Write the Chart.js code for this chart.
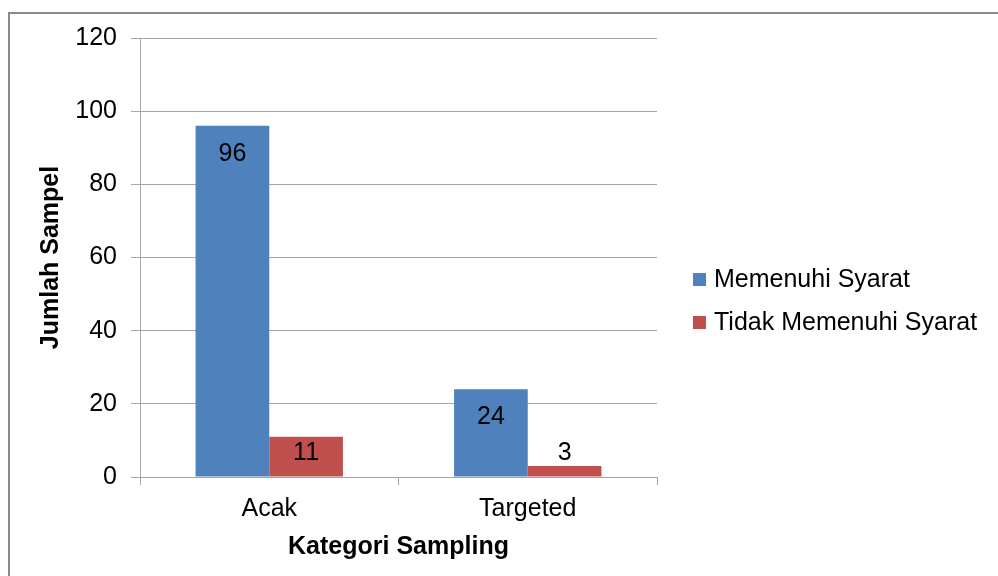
<!DOCTYPE html>
<html>
<head>
<meta charset="utf-8">
<script src="https://cdn.jsdelivr.net/npm/chart.js@4.4.1/dist/chart.umd.min.js"></script>
<style>
  html, body { margin: 0; padding: 0; background: #fff; }
  #wrap { width: 998px; height: 576px; }
</style>
</head>
<body>
<div id="wrap"><canvas id="chart" width="998" height="576"></canvas></div>
<script>
// data
const categories = ['Acak', 'Targeted'];
const memenuhi = [96, 24];
const tidakMemenuhi = [11, 3];
const seriesNames = ['Memenuhi Syarat', 'Tidak Memenuhi Syarat'];
const yTicks = [0, 20, 40, 60, 80, 100, 120];

const FONT = 'Arial, "Liberation Sans", sans-serif';

// frame around the chart (only top and left are visible in the crop)
const framePlugin = {
    id: 'frame',
    beforeDraw(chart) {
        const ctx = chart.ctx;
        ctx.save();
        ctx.fillStyle = '#fff';
        ctx.fillRect(0, 0, chart.width, chart.height);
        ctx.strokeStyle = '#898989';
        ctx.lineWidth = 2;
        ctx.beginPath();
        ctx.moveTo(9, chart.height + 5);
        ctx.lineTo(9, 13);
        ctx.lineTo(chart.width + 5, 13);
        ctx.stroke();
        ctx.restore();
    }
};

// value labels: blue inside end, red inside base
const valueLabels = {
    id: 'valueLabels',
    afterDatasetsDraw(chart) {
        const ctx = chart.ctx;
        ctx.save();
        ctx.font = '25px ' + FONT;
        ctx.fillStyle = '#000';
        ctx.textAlign = 'center';
        ctx.textBaseline = 'middle';
        chart.data.datasets.forEach((ds, i) => {
            const meta = chart.getDatasetMeta(i);
            meta.data.forEach((bar, j) => {
                const y = ds.labelPos === 'end' ? bar.y + 28 : bar.base - 23;
                ctx.fillText(String(ds.data[j]), bar.x, y);
            });
        });
        ctx.restore();
    }
};

// legend on the right
const sideLegend = {
    id: 'sideLegend',
    afterDraw(chart) {
        const ctx = chart.ctx;
        ctx.save();
        ctx.font = '25px ' + FONT;
        ctx.textBaseline = 'middle';
        ctx.textAlign = 'left';
        chart.data.datasets.forEach((ds, i) => {
            const cy = 279 + i * 43;
            ctx.fillStyle = ds.backgroundColor;
            ctx.fillRect(693, cy - 6, 13, 13);
            ctx.fillStyle = '#000';
            ctx.fillText(ds.label, 714, cy + 1);
        });
        ctx.restore();
    }
};

new Chart(document.getElementById('chart'), {
    type: 'bar',
    data: {
        labels: categories,
        datasets: [
            { label: seriesNames[0], data: memenuhi, backgroundColor: '#4f81bd', labelPos: 'end' },
            { label: seriesNames[1], data: tidakMemenuhi, backgroundColor: '#c0504d', labelPos: 'base' }
        ]
    },
    options: {
        responsive: false,
        animation: false,
        layout: { padding: { top: 38, right: 341, bottom: 0, left: 0 } },
        datasets: { bar: { categoryPercentage: 0.57, barPercentage: 1.0 } },
        scales: {
            y: {
                min: 0,
                max: 120,
                afterFit(scale) { scale.width = 140; },
                afterBuildTicks(scale) { scale.ticks = yTicks.map(v => ({ value: v })); },
                grid: { color: '#a6a6a6', lineWidth: 1, tickLength: 9, drawTicks: true },
                border: { color: '#a6a6a6', width: 1 },
                ticks: { color: '#000', font: { family: FONT, size: 25 }, padding: 14 },
                title: {
                    display: true,
                    text: 'Jumlah Sampel',
                    color: '#000',
                    font: { family: FONT, size: 25, weight: 'bold' },
                    padding: { top: 36, bottom: 0 }
                }
            },
            x: {
                afterFit(scale) { scale.height = 99; },
                grid: { offset: true, drawOnChartArea: false, drawTicks: true, tickLength: 8, color: '#a6a6a6' },
                border: { color: '#a6a6a6', width: 1 },
                ticks: { color: '#000', font: { family: FONT, size: 25 }, padding: 9 },
                title: {
                    display: true,
                    text: 'Kategori Sampling',
                    color: '#000',
                    font: { family: FONT, size: 25, weight: 'bold' },
                    padding: { top: 0, bottom: 14 }
                }
            }
        },
        plugins: {
            legend: { display: false },
            tooltip: { enabled: false }
        }
    },
    plugins: [framePlugin, valueLabels, sideLegend]
});
</script>
</body>
</html>
